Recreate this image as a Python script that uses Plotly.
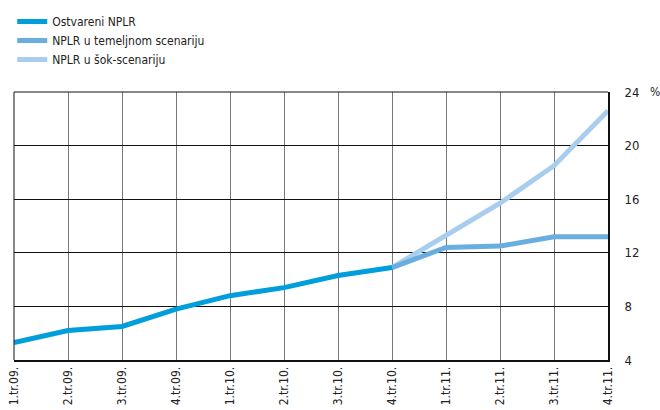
import plotly.graph_objects as go

quarters = ["1.tr.09.", "2.tr.09.", "3.tr.09.", "4.tr.09.", "1.tr.10.", "2.tr.10.",
            "3.tr.10.", "4.tr.10.", "1.tr.11.", "2.tr.11.", "3.tr.11.", "4.tr.11."]

# realised NPLR (1.tr.09. – 4.tr.10.)
ostvareni = [5.3, 6.2, 6.5, 7.8, 8.8, 9.4, 10.3, 10.9, None, None, None, None]
# baseline scenario (4.tr.10. – 4.tr.11.)
temeljni = [None, None, None, None, None, None, None, 10.9, 12.4, 12.5, 13.2, 13.2]
# shock scenario (4.tr.10. – 4.tr.11.)
sok = [None, None, None, None, None, None, None, 10.9, 13.3, 15.7, 18.5, 22.6]

y_ticks = [4, 8, 12, 16, 20, 24]

FONT = "DejaVu Sans Condensed, Liberation Sans Narrow, sans-serif"

fig = go.Figure()
fig.add_trace(go.Scatter(x=quarters, y=sok, mode="lines", name="NPLR u šok-scenariju",
                         line=dict(color="#a9cdee", width=5), legendrank=3))
fig.add_trace(go.Scatter(x=quarters, y=temeljni, mode="lines", name="NPLR u temeljnom scenariju",
                         line=dict(color="#6aaee0", width=5), legendrank=2))
fig.add_trace(go.Scatter(x=quarters, y=ostvareni, mode="lines", name="Ostvareni NPLR",
                         line=dict(color="#009edb", width=5), legendrank=1))

fig.update_layout(
    width=660, height=410,
    margin=dict(l=14, r=52, t=92, b=50),
    paper_bgcolor="white", plot_bgcolor="white",
    font=dict(family=FONT, size=12, color="#222222"),
    showlegend=True,
    legend=dict(x=-0.003, y=1.0 - 7 / 410, xref="paper", yref="container",
                xanchor="left", yanchor="top",
                bgcolor="rgba(0,0,0,0)", font=dict(size=12, family=FONT),
                itemwidth=30, tracegroupgap=0, traceorder="normal"),
    xaxis=dict(type="category", categoryorder="array", categoryarray=quarters,
               range=[0, 11], showgrid=True, gridcolor="#777777", gridwidth=1,
               showline=True, linecolor="#111111", linewidth=2, zeroline=False,
               tickangle=-90, ticks="", automargin=False,
               tickfont=dict(size=12, family=FONT)),
    yaxis=dict(range=[4, 24], side="right", tickvals=y_ticks, showgrid=True,
               gridcolor="#111111", gridwidth=1, showline=True, linecolor="#111111",
               linewidth=2, zeroline=False, ticks="", ticklabelstandoff=12,
               automargin=False, tickfont=dict(size=13, family=FONT)),
    shapes=[
        dict(type="line", xref="paper", yref="paper", x0=0, x1=0, y0=0, y1=1,
             line=dict(color="#111111", width=1)),
        dict(type="line", xref="paper", yref="paper", x0=0, x1=1, y0=1, y1=1,
             line=dict(color="#111111", width=1)),
    ],
    annotations=[
        dict(text="%", xref="paper", yref="paper", x=1 + (655 - 608) / 594, y=1.0,
             yanchor="middle", xanchor="center", showarrow=False,
             font=dict(size=12, family=FONT)),
    ],
)

fig.write_html("out.html")
